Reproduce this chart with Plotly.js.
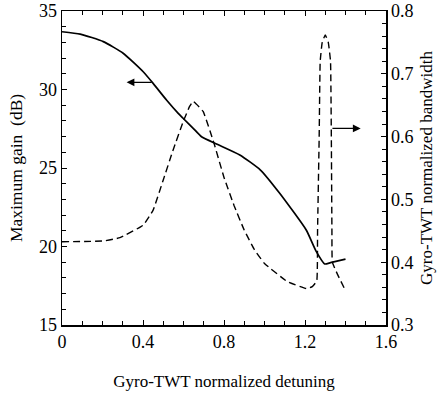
<!DOCTYPE html>
<html>
<head>
<meta charset="utf-8">
<script src="https://cdn.plot.ly/plotly-3.0.1.min.js"></script>
<style>html,body{margin:0;padding:0;background:#fff;}#chart{width:442px;height:394px;}</style>
</head>
<body>
<div id="chart"></div>
<script>
// Maximum gain (dB) vs normalized detuning (solid line, left axis)
const gainDetuning = [0, 0.09, 0.204, 0.302, 0.401, 0.45, 0.516, 0.574, 0.598, 0.648, 0.689, 0.763, 0.878, 0.98, 1.075, 1.206, 1.256, 1.297, 1.326, 1.40];
const maxGain      = [33.68, 33.53, 33.05, 32.31, 31.13, 30.39, 29.33, 28.48, 28.17, 27.53, 26.99, 26.53, 25.83, 24.87, 23.39, 21.05, 19.67, 18.89, 18.97, 19.2];

// Normalized bandwidth vs normalized detuning (dashed line, right axis)
const bwDetuning = [0, 0.204, 0.286, 0.401, 0.45, 0.50, 0.55, 0.60, 0.63, 0.648, 0.697, 0.75, 0.80, 0.85, 0.90, 0.95, 1.0, 1.113, 1.207, 1.236, 1.258, 1.262, 1.27, 1.275, 1.285, 1.30, 1.315, 1.326, 1.33, 1.333, 1.335, 1.36, 1.395];
const bandwidth  = [0.4326, 0.4338, 0.439, 0.459, 0.483, 0.531, 0.58, 0.625, 0.648, 0.656, 0.640, 0.59, 0.535, 0.49, 0.451, 0.42, 0.398, 0.369, 0.358, 0.361, 0.37, 0.45, 0.6, 0.72, 0.75, 0.762, 0.75, 0.72, 0.6, 0.45, 0.40, 0.381, 0.358];

const xTicks = [0, 0.4, 0.8, 1.2, 1.6];
const yLeftTicks = [15, 20, 25, 30, 35];
const yRightTicks = [0.3, 0.4, 0.5, 0.6, 0.7, 0.8];

const FONT = 'Liberation Serif, Times New Roman, serif';

const traces = [
  {x: gainDetuning, y: maxGain, type: 'scatter', mode: 'lines',
   line: {color: '#000', width: 1.7, dash: 'solid', shape: 'spline', smoothing: 0.5}, yaxis: 'y', hoverinfo: 'skip'},
  {x: bwDetuning, y: bandwidth, type: 'scatter', mode: 'lines',
   line: {color: '#000', width: 1.4, dash: '7px,4px', shape: 'spline', smoothing: 0.3}, yaxis: 'y2', hoverinfo: 'skip'}
];

const layout = {
  width: 442, height: 394,
  margin: {l: 62, r: 55.5, t: 11, b: 69},
  paper_bgcolor: '#fff', plot_bgcolor: '#fff',
  showlegend: false,
  font: {family: FONT, color: '#000', size: 18},
  xaxis: {
    range: [0, 1.6], tickvals: xTicks, ticktext: xTicks.map(v => v === 0 ? '0' : v.toFixed(1)),
    ticks: 'inside', ticklen: 5, tickwidth: 1, tickcolor: '#000',
    minor: {dtick: 0.1, ticks: 'inside', ticklen: 4, tickcolor: '#000'},
    showline: true, linecolor: '#000', linewidth: 1.5, mirror: 'ticks',
    showgrid: false, zeroline: false,
    tickfont: {family: FONT, size: 18},
    title: {text: 'Gyro-TWT normalized detuning', font: {family: FONT, size: 17}, standoff: 24}
  },
  yaxis: {
    range: [15, 35], tickvals: yLeftTicks,
    ticks: 'inside', ticklen: 5, tickwidth: 1, tickcolor: '#000',
    minor: {dtick: 1, ticks: 'inside', ticklen: 4, tickcolor: '#000'},
    showline: true, linecolor: '#000', linewidth: 1.5,
    showgrid: false, zeroline: false,
    tickfont: {family: FONT, size: 18},
    title: {text: 'Maximum gain  (dB)', font: {family: FONT, size: 17.5}, standoff: 12}
  },
  yaxis2: {
    range: [0.3, 0.8], tickvals: yRightTicks, ticktext: yRightTicks.map(v => v.toFixed(1)),
    overlaying: 'y', side: 'right',
    ticks: 'inside', ticklen: 5, tickwidth: 1, tickcolor: '#000',
    minor: {dtick: 0.02, ticks: 'inside', ticklen: 4, tickcolor: '#000'},
    showline: true, linecolor: '#000', linewidth: 1.5,
    showgrid: false, zeroline: false,
    tickfont: {family: FONT, size: 18},
    title: {text: 'Gyro-TWT normalized bandwidth', font: {family: FONT, size: 17}, standoff: 7}
  },
  annotations: [
    {x: 0.319, y: 30.46, xref: 'x', yref: 'y', ax: 0.45, ay: 30.46, axref: 'x', ayref: 'y',
     showarrow: true, arrowhead: 2, arrowsize: 1.3, arrowwidth: 1.2, arrowcolor: '#000', text: ''},
    {x: 1.475, y: 0.613, xref: 'x', yref: 'y2', ax: 1.328, ay: 0.613, axref: 'x', ayref: 'y2',
     showarrow: true, arrowhead: 2, arrowsize: 1.3, arrowwidth: 1.2, arrowcolor: '#000', text: ''}
  ]
};

Plotly.newPlot('chart', traces, layout, {displayModeBar: false, staticPlot: true});
</script>
</body>
</html>
